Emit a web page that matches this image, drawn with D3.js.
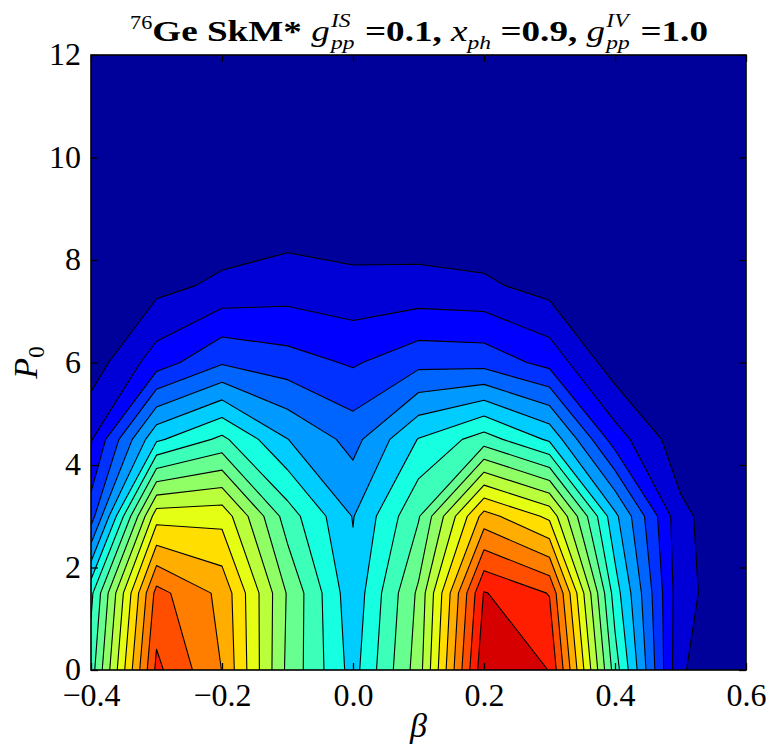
<!DOCTYPE html>
<html>
<head>
<meta charset="utf-8">
<script src="https://cdn.jsdelivr.net/npm/d3@7"></script>
<style>
  html, body { margin: 0; padding: 0; background: #ffffff; }
  svg { display: block; }
</style>
</head>
<body>
<svg id="chart" width="771" height="748"></svg>
<script>
// ---------------- DATA ----------------
const betaValues = [-0.4, -0.3, -0.2, -0.1, 0.0, 0.1, 0.2, 0.3, 0.4, 0.5, 0.6];
const p0Values = [0, 1.5, 3, 4.5, 6, 7.5, 9, 10.5, 12];
// one row of the surface per P0 value (bottom to top), one entry per beta value
const zAtP0_0   = [8.5, 17.24, 14.98, 9.76, 6.6, 10.5, 18.8, 17.98, 8.5, 1.1, 0];
const zAtP0_1_5 = [7.75, 16.35, 14.73, 9.9, 6.3, 10.2, 18.07, 16.95, 7.5, 1.3, 0.2];
const zAtP0_3   = [3.5, 12.58, 12.65, 8.5, 5.95, 8.9, 14.4, 12.77, 6.25, 1.25, 0];
const zAtP0_4_5 = [1.9, 6.82, 8.23, 6.02, 4.65, 7.05, 8.47, 6.83, 2.48, 0.4, 0];
const zAtP0_6   = [0.45, 2.5, 3.89, 3.42, 2.88, 3.69, 3.62, 2.67, 0.41, 0.05, 0];
const zAtP0_7_5 = [0.1, 0.69, 1.21, 1.48, 1.27, 1.29, 1.18, 0.61, 0, 0, 0];
const zAtP0_9   = [0, 0.2, 0.16, 0.36, 0.26, 0.25, 0.06, 0.05, 0, 0, 0];
const zAtP0_10_5 = [0, 0, 0, 0, 0, 0, 0, 0, 0, 0, 0];
const zAtP0_12  = [0, 0, 0, 0, 0, 0, 0, 0, 0, 0, 0];
const zRows = [zAtP0_0, zAtP0_1_5, zAtP0_3, zAtP0_4_5, zAtP0_6, zAtP0_7_5, zAtP0_9, zAtP0_10_5, zAtP0_12];
const levels = d3.range(0, 21);            // 20 filled intervals
const xTicks = [-0.4, -0.2, 0.0, 0.2, 0.4, 0.6];
const xTickLabels = ["\u22120.4", "\u22120.2", "0.0", "0.2", "0.4", "0.6"];
const yTicks = [0, 2, 4, 6, 8, 10, 12];
const yTickLabels = ["0", "2", "4", "6", "8", "10", "12"];

// ---------------- COLORMAP (matplotlib jet) ----------------
const jetData = {
  r: [[0, 0], [0.35, 0], [0.66, 1], [0.89, 1], [1, 0.5]],
  g: [[0, 0], [0.125, 0], [0.375, 1], [0.64, 1], [0.91, 0], [1, 0]],
  b: [[0, 0.5], [0.11, 1], [0.34, 1], [0.65, 0], [1, 0]]
};
function seg(pts, t) {
  for (let i = 1; i < pts.length; i++) {
    if (t <= pts[i][0]) {
      const [x0, y0] = pts[i - 1], [x1, y1] = pts[i];
      return y0 + (y1 - y0) * (t - x0) / (x1 - x0);
    }
  }
  return pts[pts.length - 1][1];
}
function jet(t) {
  const idx = Math.min(255, Math.max(0, Math.floor(t * 256)));
  const q = idx / 255;
  const c = v => Math.round(255 * Math.max(0, Math.min(1, v)));
  return `rgb(${c(seg(jetData.r, q))},${c(seg(jetData.g, q))},${c(seg(jetData.b, q))})`;
}
const nBands = levels.length - 1;
const bandColor = lev => jet((lev - levels[0] + 0.5) / nBands);

// ---------------- LAYOUT ----------------
const svg = d3.select("#chart");
const x = d3.scaleLinear().domain([xTicks[0], xTicks[xTicks.length - 1]]).range([91, 746]);
const y = d3.scaleLinear().domain([yTicks[0], yTicks[yTicks.length - 1]]).range([670, 55]);
const serif = "'Liberation Serif', 'Times New Roman', serif";

svg.append("defs").append("clipPath").attr("id", "plotClip")
  .append("rect")
  .attr("x", x.range()[0]).attr("y", y.range()[1])
  .attr("width", x.range()[1] - x.range()[0]).attr("height", y.range()[0] - y.range()[1]);

const plot = svg.append("g").attr("clip-path", "url(#plotClip)");

// lowest band as background
plot.append("rect")
  .attr("x", x.range()[0]).attr("y", y.range()[1])
  .attr("width", x.range()[1] - x.range()[0]).attr("height", y.range()[0] - y.range()[1])
  .attr("fill", bandColor(levels[0]));

// contours
const nx = betaValues.length, ny = p0Values.length;
const flat = [];
for (let j = 0; j < ny; j++) for (let i = 0; i < nx; i++) flat.push(zRows[j][i]);
const contours = d3.contours().size([nx, ny]).thresholds(levels.slice(1, -1))(flat);

const gBeta = d3.scaleLinear().domain([0.5, nx - 0.5]).range([betaValues[0], betaValues[nx - 1]]);
const gP0 = d3.scaleLinear().domain([0.5, ny - 0.5]).range([p0Values[0], p0Values[ny - 1]]);
const proj = d3.geoTransform({
  point: function (px, py) { this.stream.point(x(gBeta(px)), y(gP0(py))); }
});
const path = d3.geoPath(proj);
const drawn = contours.filter(c => c.coordinates.length);

plot.selectAll("path.band")
  .data(drawn)
  .join("path")
  .attr("class", "band")
  .attr("d", path)
  .attr("fill", d => bandColor(d.value))
  .attr("stroke", "none");

plot.selectAll("path.cline")
  .data(drawn)
  .join("path")
  .attr("class", "cline")
  .attr("d", path)
  .attr("fill", "none")
  .attr("stroke", "#000")
  .attr("stroke-width", 1.1)
  .attr("stroke-linejoin", "round");

// ---------------- AXES ----------------
const tickLen = 7;
function styleAxis(g) {
  g.select(".domain").remove();
  g.selectAll(".tick line").attr("stroke", "#000").attr("stroke-width", 1.3);
  g.selectAll("text").attr("font-family", serif).attr("font-size", 32).attr("fill", "#000");
}
svg.append("g").attr("transform", `translate(0,${y.range()[0]})`)
  .call(d3.axisBottom(x).tickValues(xTicks).tickSize(-tickLen).tickSizeOuter(0)
    .tickFormat((d, i) => xTickLabels[i]))
  .call(styleAxis)
  .call(g => g.selectAll("text").attr("y", 36).attr("dy", null));
svg.append("g").attr("transform", `translate(0,${y.range()[1]})`)
  .call(d3.axisTop(x).tickValues(xTicks).tickSize(-tickLen).tickSizeOuter(0).tickFormat(""))
  .call(styleAxis);
svg.append("g").attr("transform", `translate(${x.range()[0]},0)`)
  .call(d3.axisLeft(y).tickValues(yTicks).tickSize(-tickLen).tickSizeOuter(0)
    .tickPadding(10).tickFormat((d, i) => yTickLabels[i]))
  .call(styleAxis)
  .call(g => g.selectAll("text").attr("dy", "0.3em"));
svg.append("g").attr("transform", `translate(${x.range()[1]},0)`)
  .call(d3.axisRight(y).tickValues(yTicks).tickSize(-tickLen).tickSizeOuter(0).tickFormat(""))
  .call(styleAxis);

// frame
svg.append("rect")
  .attr("x", x.range()[0]).attr("y", y.range()[1])
  .attr("width", x.range()[1] - x.range()[0]).attr("height", y.range()[0] - y.range()[1])
  .attr("fill", "none").attr("stroke", "#000").attr("stroke-width", 1.6);

// axis labels
svg.append("text")
  .attr("x", (x.range()[0] + x.range()[1]) / 2).attr("y", 737)
  .attr("text-anchor", "middle")
  .attr("font-family", serif).attr("font-size", 34).attr("font-style", "italic")
  .text("\u03B2");

const yl = svg.append("text")
  .attr("transform", `translate(37,${(y.range()[0] + y.range()[1]) / 2}) rotate(-90)`)
  .attr("text-anchor", "middle")
  .attr("font-family", serif).attr("font-size", 34);
yl.append("tspan").attr("font-style", "italic").text("P");
yl.append("tspan").attr("font-size", 23).attr("dy", 7).text("0");

// ---------------- TITLE ----------------
const titleG = svg.append("g");
const inner = titleG.append("g");
const base = 30, small = 19, baseY = 41;
const pieces = [
  { t: "76", size: small - 1, dy: -12 },
  { t: "Ge SkM*", size: base, weight: "bold" },
  { t: "\u00A0", size: base },
  { t: "g", size: base, italic: true },
  { stack: [{ t: "IS", size: small, dy: -14 }, { t: "pp", size: small, dy: 8 }] },
  { t: "\u00A0=0.1,\u00A0", size: base, weight: "bold" },
  { t: "x", size: base, italic: true },
  { t: "ph", size: small, dy: 8, italic: true },
  { t: "\u00A0=0.9,\u00A0", size: base, weight: "bold" },
  { t: "g", size: base, italic: true },
  { stack: [{ t: "IV", size: small, dy: -14 }, { t: "pp", size: small, dy: 8 }] },
  { t: "\u00A0=1.0", size: base, weight: "bold" }
];
function addText(p, cx) {
  const el = inner.append("text")
    .attr("x", cx).attr("y", baseY + (p.dy || 0))
    .attr("font-family", serif).attr("font-size", p.size)
    .attr("font-weight", p.weight || "normal")
    .attr("font-style", p.italic ? "italic" : "normal")
    .text(p.t);
  return el.node().getComputedTextLength();
}
let cx = 0;
pieces.forEach(p => {
  if (p.stack) {
    let w = 0;
    p.stack.forEach(s => { w = Math.max(w, addText(Object.assign({ italic: true }, s), cx + 1)); });
    cx += w + 2;
  } else {
    cx += addText(p, cx);
  }
});
const titleLeft = 130, titleRight = 708;
const sx = (titleRight - titleLeft) / cx;
titleG.attr("transform", `translate(${titleLeft},0) scale(${sx},1)`);
</script>
</body>
</html>
